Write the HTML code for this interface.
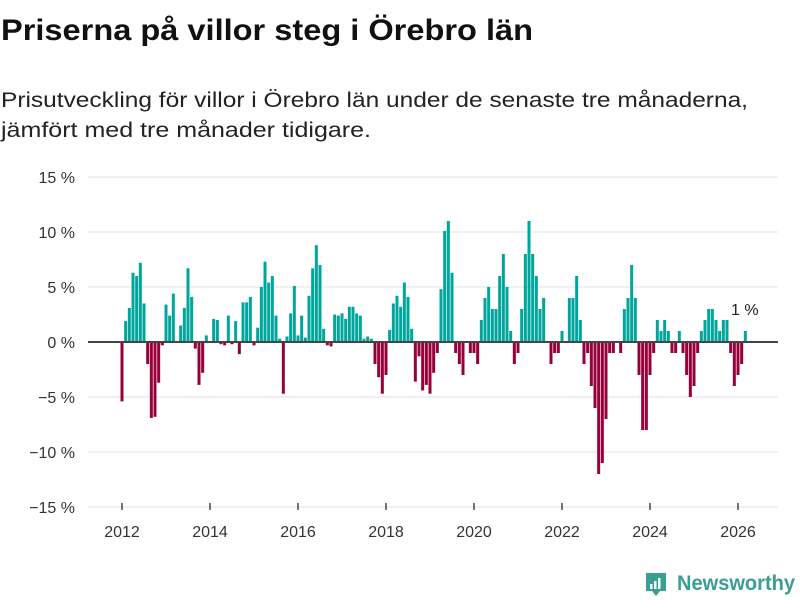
<!DOCTYPE html>
<html><head><meta charset="utf-8"><style>
html,body{margin:0;padding:0;background:#fff;}
svg{display:block;font-family:"Liberation Sans",sans-serif;}
</style></head><body>
<svg id="chart" width="800" height="600" viewBox="0 0 800 600">
<text x="1" y="40" font-size="30" font-weight="bold" fill="#111" textLength="532" lengthAdjust="spacingAndGlyphs">Priserna på villor steg i Örebro län</text>
<text x="1" y="107" font-size="21" fill="#222" textLength="747" lengthAdjust="spacingAndGlyphs">Prisutveckling för villor i Örebro län under de senaste tre månaderna,</text>
<text x="1" y="137" font-size="21" fill="#222" textLength="370" lengthAdjust="spacingAndGlyphs">jämfört med tre månader tidigare.</text>
<g id="grid"></g>
<g id="bars"></g>
<line x1="88" x2="778" y1="342" y2="342" stroke="#444" stroke-width="2"/>
<g id="xaxis"></g>
<text x="731" y="315" font-size="16" fill="#222">1 %</text>
<g>
<path d="M646 573 h20 v18 h-6 l-4 5 l-4 -5 h-6 z" fill="#3a9e93"/>
<rect x="650" y="584" width="2.5" height="5" fill="#fff"/>
<rect x="654" y="581" width="2.5" height="8" fill="#fff"/>
<rect x="658" y="578" width="2.5" height="11" fill="#fff"/>
<text x="677" y="590" font-size="21" font-weight="bold" fill="#3a9e93" textLength="118" lengthAdjust="spacingAndGlyphs">Newsworthy</text>
</g>
</svg>
<script>
const yTicks = [15, 10, 5, 0, -5, -10, -15];
const yTickLabels = ["15 %", "10 %", "5 %", "0 %", "−5 %", "−10 %", "−15 %"];
const xTicks = [2012, 2014, 2016, 2018, 2020, 2022, 2024, 2026];
const startYear = 2012;
const values = [
-5.4,1.9,3.1,6.3,6.0,7.2,3.5,-2.0,-6.9,-6.8,-3.7,-0.3,
3.4,2.4,4.4,0,1.5,3.1,6.7,4.1,-0.6,-3.9,-2.8,0.6,
0,2.1,2.0,-0.2,-0.3,2.4,-0.2,1.9,-1.1,3.6,3.6,4.1,
-0.3,1.3,5.0,7.3,5.4,6.0,2.4,0.3,-4.7,0.5,2.6,5.1,
0.6,2.4,0.4,4.2,6.7,8.8,7.0,1.2,-0.3,-0.4,2.5,2.4,
2.6,2.1,3.2,3.2,2.6,2.4,0.3,0.5,0.3,-2.0,-3.2,-4.7,
-3.0,1.1,3.5,4.2,3.2,5.4,4.1,1.2,-3.6,-1.3,-4.4,-3.9,
-4.7,-2.8,-1,4.8,10.1,11,6.3,-1,-2,-3,0,-1,
-1,-2,2,4,5,3,3,6,8,5,1,-2,
-1,3,8,11,8,6,3,4,0,-2,-1,-1,
1,0,4,4,6,2,-2,-1,-4,-6,-12,-11,
-7,-1,-1,0,-1,3,4,7,4,-3,-8,-8,
-3,-1,2,1,2,1,-1,-1,1,-1,-3,-5,
-4,-1,1,2,3,3,2,1,2,2,-1,-4,
-3,-2,1
];
const NS='http://www.w3.org/2000/svg';
const yScale = v => 342 - v * 11;
const xScale = t => 122 + (t - startYear) * 44; // t in fractional years
const grid = document.getElementById('grid');
yTicks.forEach((v,i) => {
  if (v !== 0) {
    const l = document.createElementNS(NS,'line');
    l.setAttribute('x1',88); l.setAttribute('x2',778);
    l.setAttribute('y1',yScale(v)); l.setAttribute('y2',yScale(v));
    l.setAttribute('stroke','#e2e2e2'); l.setAttribute('stroke-width','1');
    
    
    grid.appendChild(l);
  }
  const t = document.createElementNS(NS,'text');
  t.setAttribute('x',75); t.setAttribute('y',yScale(v)+6);
  t.setAttribute('text-anchor','end'); t.setAttribute('font-size','16'); t.setAttribute('fill','#333');
  t.textContent = yTickLabels[i];
  
  
  grid.appendChild(t);
});
const xa = document.getElementById('xaxis');
xTicks.forEach(yr => {
  const x = xScale(yr);
  const tk = document.createElementNS(NS,'line');
  tk.setAttribute('x1',x); tk.setAttribute('x2',x); tk.setAttribute('y1',503); tk.setAttribute('y2',510);
  tk.setAttribute('stroke','#444'); tk.setAttribute('stroke-width','1.5');
  
  
  xa.appendChild(tk);
  const t = document.createElementNS(NS,'text');
  t.setAttribute('x',x); t.setAttribute('y',537);
  t.setAttribute('text-anchor','middle'); t.setAttribute('font-size','16'); t.setAttribute('fill','#333');
  t.textContent = yr;
  
  
  xa.appendChild(t);
});
const bars = document.getElementById('bars');
values.forEach((v,i) => {
  const cx = xScale(startYear + i/12);
  const y0 = yScale(0), y1 = yScale(v);
  const r = document.createElementNS(NS,'rect');
  r.setAttribute('x', cx - 1.5);
  r.setAttribute('width', 3);
  r.setAttribute('y', Math.min(y0,y1));
  r.setAttribute('height', Math.abs(y1-y0));
  r.setAttribute('fill', v >= 0 ? '#00a69c' : '#98003a');
  
  
  bars.appendChild(r);
});
</script>
</body></html>
